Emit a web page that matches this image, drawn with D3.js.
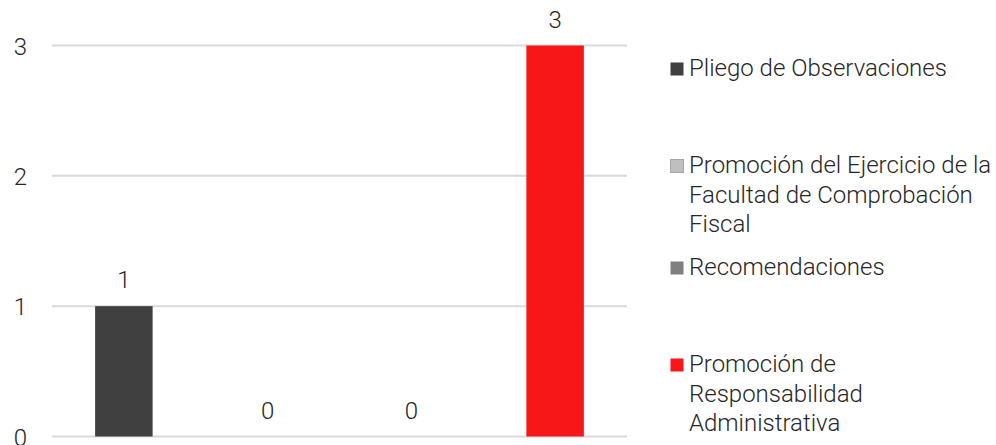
<!DOCTYPE html>
<html>
<head>
<meta charset="utf-8">
<script src="https://cdn.jsdelivr.net/npm/d3@7"></script>
<style>
  body { margin: 0; background: #fff; }
  text { font-family: Roboto, "Noto Sans", sans-serif; font-weight: 300; fill: #262626; }
</style>
</head>
<body>
<div id="chart"></div>
<script>
// data
var categories = ["Pliego de Observaciones",
  "Promoción del Ejercicio de la Facultad de Comprobación Fiscal",
  "Recomendaciones",
  "Promoción de Responsabilidad Administrativa"];
var values = [1, 0, 0, 3];
var colors = ["#404040", "#BFBFBF", "#808080", "#F71718"];
var yTicks = [0, 1, 2, 3];
// legend text broken into lines as in the original
var legendLines = [
  ["Pliego de Observaciones"],
  ["Promoción del Ejercicio de la", "Facultad de Comprobación", "Fiscal"],
  ["Recomendaciones"],
  ["Promoción de", "Responsabilidad", "Administrativa"]
];

var svgWidth = 996;
var svgHeight = 445;

var svg = d3.select("#chart")
  .append("svg")
  .attr("width", svgWidth)
  .attr("height", svgHeight);

var xScale = d3.scaleBand()
  .domain(categories)
  .range([52, 627])
  .paddingInner(0.6)
  .paddingOuter(0.3);

var yScale = d3.scaleLinear()
  .domain([0, 3])
  .range([436.5, 45.5]);

// gridlines
svg.append("g")
  .selectAll("line")
  .data(yTicks)
  .enter()
  .append("line")
  .attr("x1", 52)
  .attr("x2", 627)
  .attr("y1", d => yScale(d))
  .attr("y2", d => yScale(d))
  .attr("stroke", "#D9D9D9")
  .attr("stroke-width", 2);

// y axis labels
var leftAxis = d3.axisLeft(yScale)
  .tickValues(yTicks)
  .tickFormat(d3.format("d"))
  .tickSize(0)
  .tickPadding(0);
var yAxis = svg.append("g")
  .attr("transform", "translate(27,0)")
  .call(leftAxis);
yAxis.select(".domain").remove();
yAxis.selectAll("text")
  .attr("font-size", "24px")
  .attr("font-family", null)
  .attr("dy", "0.36em");

// bars
svg.append("g")
  .selectAll("rect")
  .data(values)
  .enter()
  .append("rect")
  .attr("x", (d, i) => xScale(categories[i]))
  .attr("y", d => yScale(d))
  .attr("width", xScale.bandwidth())
  .attr("height", d => yScale(0) - yScale(d))
  .attr("fill", (d, i) => colors[i]);

// value labels
svg.append("g")
  .selectAll("text")
  .data(values)
  .enter()
  .append("text")
  .attr("x", (d, i) => xScale(categories[i]) + xScale.bandwidth() / 2)
  .attr("y", d => yScale(d) - 18)
  .attr("text-anchor", "middle")
  .attr("font-size", "24px")
  .text(d => d);

// legend
var legendBaselines = [76, 173, 275, 372];
var legend = svg.append("g");
legendLines.forEach(function (lines, i) {
  var g = legend.append("g")
    .attr("transform", `translate(670, ${legendBaselines[i]})`);
  g.append("rect")
    .attr("x", 0.5)
    .attr("y", -13.5)
    .attr("width", 13)
    .attr("height", 13)
    .attr("fill", colors[i])
    .attr("stroke", i === 1 ? "#A6A6A6" : "none");
  var t = g.append("text")
    .attr("x", 19)
    .attr("y", 0)
    .attr("font-size", "24px");
  lines.forEach(function (line, j) {
    t.append("tspan")
      .attr("x", 19)
      .attr("y", j * 29.5)
      .text(line);
  });
});
</script>
</body>
</html>
